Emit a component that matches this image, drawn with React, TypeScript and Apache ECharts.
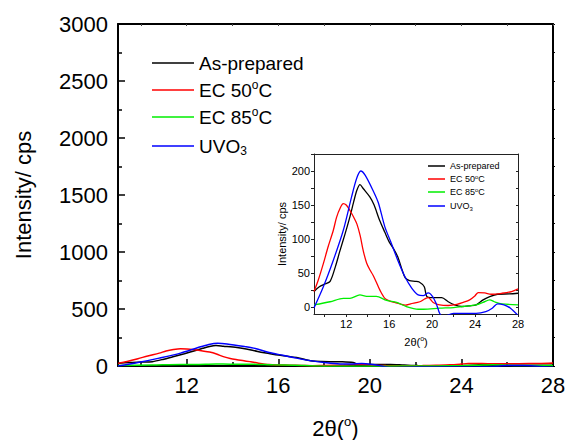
import React, { useEffect, useRef } from "react";
import * as echarts from "echarts";

// ---- data (2θ in degrees, intensity in cps) ----
const asPreparedX = [9, 9.5, 10.0, 10.5, 11.0, 11.4, 11.9, 12.35, 12.7, 13.0, 13.28, 13.6, 14.2, 14.6, 15.1, 15.6, 16.0, 16.4, 16.8, 17.2, 17.5, 17.9, 18.4, 18.8, 19.27, 19.5, 20.0, 20.5, 20.9, 21.5, 22.1, 22.74, 23.5, 24.1, 24.75, 25.37, 26.1, 27.2, 28];
const asPreparedY = [23, 30, 34, 38, 60, 82, 108, 133, 155, 172, 180, 174, 162, 150, 128, 110, 96, 86, 74, 55, 43, 39, 38, 37, 30, 16, 14, 14, 14, 8, 3.4, 1, 2, 3.4, 10.7, 15.6, 19, 19.5, 20.5];

const ec50X = [9, 9.4, 9.87, 10.3, 10.8, 11.1, 11.42, 11.73, 12.0, 12.35, 12.7, 13.0, 13.3, 13.6, 13.9, 14.2, 14.5, 14.8, 15.14, 15.6, 16.07, 16.5, 17.0, 17.5, 18.0, 18.86, 19.3, 19.64, 20.1, 20.7, 21.5, 22.3, 22.9, 23.5, 23.98, 24.3, 24.9, 25.5, 26.5, 27.4, 28];
const ec50Y = [23, 40, 64, 88, 113, 132, 145, 152, 150, 142, 132, 122, 105, 82, 65, 55, 47, 37, 25, 13, 9, 7, 5, 3, 5, 8, 12, 14, 7, 3.4, 2.5, 4, 7, 10.7, 16.6, 21.5, 21, 19, 20.5, 23, 27];

const ec85X = [9, 10.5, 11.73, 12.35, 13.28, 13.9, 14.8, 15.76, 16.7, 17.6, 18.7, 19.2, 20.7, 22.0, 22.9, 24.1, 24.75, 25.37, 25.8, 26.5, 28];
const ec85Y = [3.4, 8, 13, 13, 18, 16, 16, 10, 7, 1, -3, -3, -1.5, -0.5, 1, 3.4, 7, 10.7, 8, 5, 3.4];

const uvo3X = [9, 9.87, 10.8, 11.73, 12.5, 12.97, 13.35, 13.76, 14.54, 15.0, 15.6, 16.2, 16.8, 17.46, 18.1, 18.7, 19.17, 19.64, 20.05, 20.43, 20.7, 21.0, 22.0, 24.1, 25.0, 25.6, 26.1, 26.7, 27.3, 28];
const uvo3Y = [-1, 30, 69, 113, 162, 189, 200, 194, 170, 153, 118, 94, 69, 45, 28, 18, 17, 21, 15.6, 3.4, -9, -14, -9, -9, -6.6, -1.5, 5, 3.4, -1.5, -12];

const seriesNames = ["As-prepared", "EC 50°C", "EC 85°C", "UVO3"];
const seriesColors = ["#000000", "#ff0000", "#00ee00", "#0000ff"];
const seriesX = [asPreparedX, ec50X, ec85X, uvo3X];
const seriesY = [asPreparedY, ec50Y, ec85Y, uvo3Y];

const xLabelValues = [12, 16, 20, 24, 28];
const xMinorValues = [10, 14, 18, 22, 26];
const insetYLabels = [0, 50, 100, 150, 200];
const insetYTicks = [0, 25, 50, 75, 100, 125, 150, 175, 200, 225];

const FONT = "'Liberation Sans', Arial, Helvetica, sans-serif";

function legendText(name: string) {
  if (name === "EC 50°C") return "EC 50{sup|o}C";
  if (name === "EC 85°C") return "EC 85{sup|o}C";
  if (name === "UVO3") return "UVO{sub|3}";
  return name;
}

const plain = (v: number) => String(v);

export default function App() {
  const ref = useRef<HTMLDivElement>(null);
  useEffect(() => {
    if (!ref.current) return;
    const chart = echarts.init(ref.current, undefined, { renderer: "svg" });

    const pairs = (i: number) => seriesX[i].map((x, k) => [x, seriesY[i][k]]);

    const mainSeries = seriesNames.map((name, i) => ({
      name,
      type: "line",
      xAxisIndex: 0,
      yAxisIndex: 0,
      data: pairs(i),
      smooth: 0.3,
      symbol: "none",
      lineStyle: { color: seriesColors[i], width: 1.5 },
      itemStyle: { color: seriesColors[i] },
      z: 3,
    }));
    const insetSeries = seriesNames.map((name, i) => ({
      name,
      type: "line",
      xAxisIndex: 3,
      yAxisIndex: 2,
      data: pairs(i),
      smooth: 0.3,
      symbol: "none",
      lineStyle: { color: seriesColors[i], width: 1.3 },
      itemStyle: { color: seriesColors[i] },
      z: 4,
    }));

    const mainRows = [63, 90, 117, 142];
    const insetRows = [166, 179, 192, 204];

    const mainLegends = seriesNames.map((name, i) => ({
      show: true,
      data: [name],
      left: 152,
      top: mainRows[i] - 11,
      padding: 0,
      orient: "vertical",
      icon: "rect",
      itemWidth: 42,
      itemHeight: 1.5,
      selectedMode: false,
      formatter: legendText,
      textStyle: {
        fontFamily: FONT,
        fontSize: 19,
        color: "#000",
        lineHeight: 22,
        rich: {
          sup: { fontSize: 12, lineHeight: 12, verticalAlign: "top", fontFamily: FONT, color: "#000" },
          sub: { fontSize: 12, lineHeight: 12, padding: [14, 0, 0, 0], verticalAlign: "bottom", fontFamily: FONT, color: "#000" },
        },
      },
    }));
    const insetLegends = seriesNames.map((name, i) => ({
      show: true,
      data: [name],
      left: 428,
      top: insetRows[i] - 5.5,
      padding: 0,
      orient: "vertical",
      icon: "rect",
      itemWidth: 17,
      itemHeight: 1.5,
      selectedMode: false,
      formatter: legendText,
      textStyle: {
        fontFamily: FONT,
        fontSize: 9,
        color: "#000",
        lineHeight: 11,
        rich: {
          sup: { fontSize: 6, lineHeight: 6, verticalAlign: "top", fontFamily: FONT, color: "#000" },
          sub: { fontSize: 6, lineHeight: 6, padding: [7, 0, 0, 0], verticalAlign: "bottom", fontFamily: FONT, color: "#000" },
        },
      },
    }));

    const noSplit = { show: false };
    const mainLine = { show: true, onZero: false, lineStyle: { color: "#000", width: 2 } };
    const insetLine = { show: true, onZero: false, lineStyle: { color: "#222", width: 1 } };

    const option: any = {
      animation: false,
      backgroundColor: "#fff",
      textStyle: { fontFamily: FONT },
      legend: [...mainLegends, ...insetLegends],
      grid: [
        { left: 118, top: 24, width: 435, height: 342, containLabel: false, outerBoundsMode: "none" },
        { left: 314, top: 154, width: 204, height: 160, containLabel: false, outerBoundsMode: "none" },
      ],
      xAxis: [
        {
          gridIndex: 0, type: "value", min: 9, max: 28, position: "bottom",
          axisLine: mainLine,
          axisTick: { show: true, inside: true, length: 7, customValues: xLabelValues, lineStyle: { color: "#000", width: 1.5 } },
          axisLabel: { show: true, customValues: xLabelValues, fontSize: 22, color: "#000", margin: 8, fontFamily: FONT, formatter: plain },
          splitLine: noSplit,
          name: "2θ({sup|o})",
          nameLocation: "middle",
          nameGap: 49,
          nameTextStyle: {
            fontSize: 22, color: "#000", fontFamily: FONT, lineHeight: 26,
            rich: { sup: { fontSize: 13, lineHeight: 13, verticalAlign: "top", color: "#000", fontFamily: FONT } },
          },
        },
        {
          gridIndex: 0, type: "value", min: 9, max: 28, position: "bottom", offset: 0,
          axisLine: { show: false },
          axisTick: { show: true, inside: true, length: 4, customValues: xMinorValues, lineStyle: { color: "#000", width: 1.5 } },
          axisLabel: { show: false },
          splitLine: noSplit,
        },
        {
          gridIndex: 0, type: "value", min: 9, max: 28, position: "top",
          axisLine: mainLine,
          axisTick: { show: true, inside: true, length: 2, customValues: [...xMinorValues, ...xLabelValues], lineStyle: { color: "#444", width: 1 } },
          axisLabel: { show: false },
          splitLine: noSplit,
        },
        {
          gridIndex: 1, type: "value", min: 9, max: 28, position: "bottom",
          axisLine: insetLine,
          axisTick: { show: true, inside: false, length: 3, customValues: [...xMinorValues, ...xLabelValues], lineStyle: { color: "#222", width: 1 } },
          axisLabel: { show: true, customValues: xLabelValues, fontSize: 11, color: "#000", margin: 4, fontFamily: FONT, formatter: plain },
          splitLine: noSplit,
          name: "2θ({sup|o})",
          nameLocation: "middle",
          nameGap: 21,
          nameTextStyle: {
            fontSize: 11, color: "#000", fontFamily: FONT, lineHeight: 13,
            rich: { sup: { fontSize: 7, lineHeight: 7, verticalAlign: "top", color: "#000", fontFamily: FONT } },
          },
        },
        {
          gridIndex: 1, type: "value", min: 9, max: 28, position: "top",
          axisLine: insetLine,
          axisTick: { show: false },
          axisLabel: { show: false },
          splitLine: noSplit,
        },
      ],
      yAxis: [
        {
          gridIndex: 0, type: "value", min: 0, max: 3000, interval: 500, position: "left",
          axisLine: mainLine,
          axisTick: { show: true, inside: true, length: 7, lineStyle: { color: "#000", width: 1.5 } },
          minorTick: { show: true, splitNumber: 2, length: 4, lineStyle: { color: "#000", width: 1.5 } },
          axisLabel: { show: true, fontSize: 22, color: "#000", margin: 10, fontFamily: FONT, formatter: plain },
          splitLine: noSplit,
          minorSplitLine: { show: false },
          name: "Intensity/ cps",
          nameLocation: "middle",
          nameGap: 84,
          nameTextStyle: { fontSize: 22, color: "#000", fontFamily: FONT },
        },
        {
          gridIndex: 0, type: "value", min: 0, max: 3000, interval: 500, position: "right",
          axisLine: mainLine,
          axisTick: { show: true, inside: false, length: 2, lineStyle: { color: "#000", width: 1 } },
          minorTick: { show: true, splitNumber: 2, length: 2, lineStyle: { color: "#000", width: 1 } },
          axisLabel: { show: false },
          splitLine: noSplit,
        },
        {
          gridIndex: 1, type: "value", min: -10, max: 225, position: "left",
          axisLine: insetLine,
          axisTick: { show: true, inside: false, length: 3, customValues: insetYTicks, lineStyle: { color: "#222", width: 1 } },
          axisLabel: { show: true, customValues: insetYLabels, fontSize: 11, color: "#000", margin: 4, fontFamily: FONT, formatter: plain },
          splitLine: noSplit,
          name: "Intensity/ cps",
          nameLocation: "middle",
          nameGap: 26,
          nameTextStyle: { fontSize: 11, color: "#000", fontFamily: FONT },
        },
        {
          gridIndex: 1, type: "value", min: -10, max: 225, position: "right",
          axisLine: insetLine,
          axisTick: { show: true, inside: true, length: 2, customValues: insetYTicks, lineStyle: { color: "#222", width: 1 } },
          axisLabel: { show: false },
          splitLine: noSplit,
        },
      ],
      series: [...mainSeries, ...insetSeries],
    };
    chart.setOption(option);
    return () => chart.dispose();
  }, []);

  return (
    <div
      ref={ref}
      style={{ position: "absolute", left: 0, top: 0, width: 569, height: 440, background: "#fff" }}
    />
  );
}
